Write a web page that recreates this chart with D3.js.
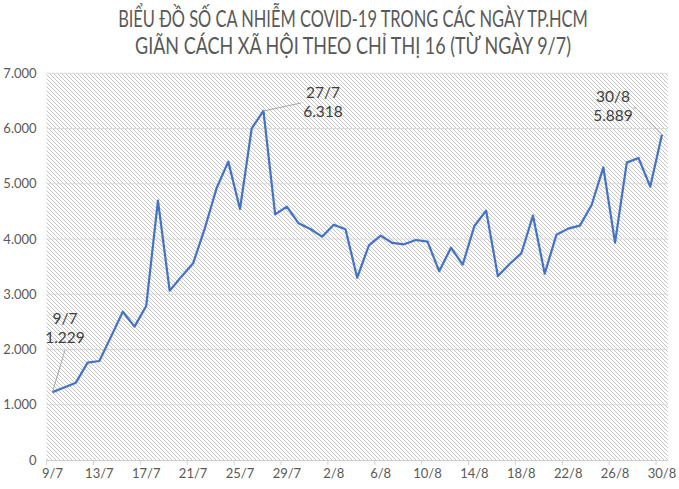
<!DOCTYPE html>
<html><head><meta charset="utf-8">
<script src="https://cdn.jsdelivr.net/npm/d3@7"></script>
<style>body{margin:0;background:#fff}svg{display:block}</style>
</head><body>
<svg id="c" width="679" height="489"></svg>
<script>
const dates = ["9/7","10/7","11/7","12/7","13/7","14/7","15/7","16/7","17/7","18/7","19/7","20/7","21/7","22/7","23/7","24/7","25/7","26/7","27/7","28/7","29/7","30/7","31/7","1/8","2/8","3/8","4/8","5/8","6/8","7/8","8/8","9/8","10/8","11/8","12/8","13/8","14/8","15/8","16/8","17/8","18/8","19/8","20/8","21/8","22/8","23/8","24/8","25/8","26/8","27/8","28/8","29/8","30/8"];
const cases = [1229,1314,1400,1762,1792,2233,2685,2414,2788,4695,3065,3319,3560,4194,4918,5401,4544,6004,6318,4447,4586,4285,4182,4043,4260,4176,3301,3886,4061,3929,3904,3983,3953,3415,3844,3536,4236,4514,3331,3548,3741,4423,3373,4079,4188,4242,4616,5298,3934,5383,5467,4948,5889];
const yTicks = [0,1000,2000,3000,4000,5000,6000,7000];
const xTickLabels = ["9/7","13/7","17/7","21/7","25/7","29/7","2/8","6/8","10/8","14/8","18/8","22/8","26/8","30/8"];
const titleLines = ["BIỂU ĐỒ SỐ CA NHIỄM COVID-19 TRONG CÁC NGÀY TP.HCM","GIÃN CÁCH XÃ HỘI THEO CHỈ THỊ 16 (TỪ NGÀY 9/7)"];
const callouts = [{d:"9/7",v:1229,lx:65,ly:320,ex:65,ey:350},{d:"27/7",v:6318,lx:323,ly:94,ex:301,ey:103},{d:"30/8",v:5889,lx:613,ly:98,ex:636,ey:108}];

const svg = d3.select("#c");
const L=46.6, R=667.8, T=73.3, B=460;
const x = d3.scaleBand().domain(dates).range([L,R]);
const y = d3.scaleLinear().domain([0,7000]).range([B,T]);
const cx = d => x(d)+x.bandwidth()/2;
const fmt = v => d3.format(",")(v).replace(/,/g,".");
const grey="#595959";
const FONT="Lato, 'Open Sans', sans-serif";

const defs = svg.append("defs");
const pat = defs.append("pattern").attr("id","hatch").attr("patternUnits","userSpaceOnUse").attr("width",4).attr("height",4);
pat.append("rect").attr("width",4).attr("height",4).attr("fill","#fff");
pat.append("path").attr("d","M-1,-1 L5,5 M-1,3 L1,5 M3,-1 L5,1").attr("stroke","#bdbdbd").attr("stroke-width",0.9);

svg.append("rect").attr("x",L).attr("y",T).attr("width",R-L).attr("height",B-T).attr("fill","url(#hatch)");

// gridlines
svg.append("g").selectAll("line").data(yTicks.filter(t=>t>0)).join("line")
  .attr("x1",L).attr("x2",R).attr("y1",d=>y(d)).attr("y2",d=>y(d))
  .attr("stroke","#d9d9d9").attr("stroke-width",1);

// y axis labels
const ya = svg.append("g").attr("transform",`translate(${L},0)`)
  .call(d3.axisLeft(y).tickValues(yTicks).tickFormat(fmt).tickSize(0).tickPadding(10));
ya.select(".domain").remove();
ya.selectAll("text").attr("fill",grey).style("font-family",FONT).style("font-size","13px");

// x axis
const xa = svg.append("g").attr("transform",`translate(0,${B})`)
  .call(d3.axisBottom(x).tickValues(xTickLabels).tickSize(0).tickPadding(9));
xa.select(".domain").attr("stroke","#d0d0d0");
xa.selectAll("text").attr("fill",grey).style("font-family",FONT).style("font-size","13px");
// tick marks at category boundaries
svg.append("g").selectAll("line").data(xTickLabels).join("line")
  .attr("x1",d=>x(d)).attr("x2",d=>x(d)).attr("y1",B).attr("y2",B+5)
  .attr("stroke","#d0d0d0");

// line
svg.append("path").datum(cases).attr("fill","none").attr("stroke","#4472C4").attr("stroke-width",2.2)
  .attr("stroke-linejoin","round")
  .attr("d", d3.line().x((d,i)=>cx(dates[i])).y(d=>y(d)));

// callouts
callouts.forEach(c=>{
  const px=cx(c.d), py=y(c.v);
  const g=svg.append("g");
  if(c.d==="30/8"){
    g.append("polyline").attr("points",`${c.ex-3},${c.ey} ${c.ex},${c.ey} ${px},${py}`).attr("fill","none").attr("stroke","#a6a6a6");
  } else {
    g.append("line").attr("x1",px).attr("y1",py).attr("x2",c.ex).attr("y2",c.ey).attr("stroke","#a6a6a6");
  }
  g.append("text").attr("x",c.lx).attr("y",c.ly).attr("text-anchor","middle").attr("dominant-baseline","middle")
    .attr("fill","#404040").style("font-family",FONT).style("font-size","15.5px").text(c.d);
  g.append("text").attr("x",c.lx).attr("y",c.ly+19.5).attr("text-anchor","middle").attr("dominant-baseline","middle")
    .attr("fill","#404040").style("font-family",FONT).style("font-size","15.5px").text(fmt(c.v));
});

// title (horizontally condensed to match the narrow original face)
const tw=[470,436];
titleLines.forEach((t,i)=>{
  const g = svg.append("g");
  const txt = g.append("text").attr("x",0).attr("y",0).attr("text-anchor","middle").attr("dominant-baseline","middle")
    .attr("fill",grey).style("font-family",FONT).style("font-size","23px").text(t);
  const w = txt.node().getComputedTextLength() || tw[i];
  const sx = Math.min(1, tw[i]/w);
  g.attr("transform",`translate(353,${21+i*27}) scale(${sx},1)`);
});
</script>
</body></html>
